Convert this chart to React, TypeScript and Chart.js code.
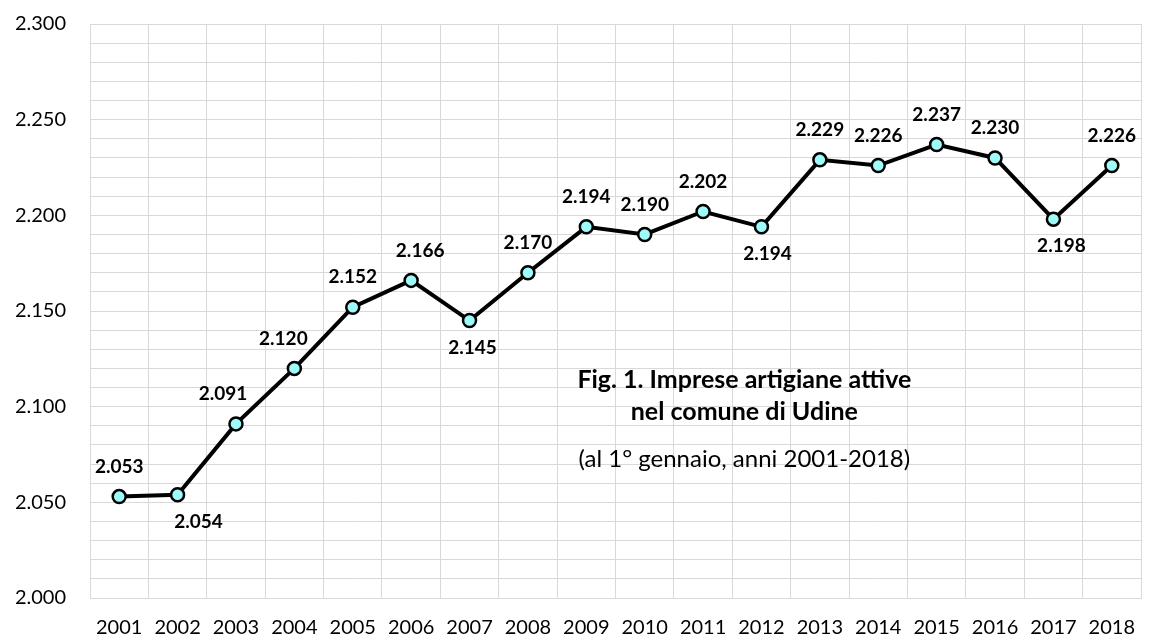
import React, { useEffect, useRef } from 'react';
import { Chart, registerables } from 'chart.js';

Chart.register(...registerables);

const YEARS = ['2001', '2002', '2003', '2004', '2005', '2006', '2007', '2008', '2009', '2010', '2011', '2012', '2013', '2014', '2015', '2016', '2017', '2018'];
const IMPRESE = [2053, 2054, 2091, 2120, 2152, 2166, 2145, 2170, 2194, 2190, 2202, 2194, 2229, 2226, 2237, 2230, 2198, 2226];
const LABEL_POSITION = ['above', 'below', 'above', 'above', 'above', 'above', 'below', 'above', 'above', 'above', 'above', 'below', 'above', 'above', 'above', 'above', 'below', 'above'];
const LABEL_SHIFT_X = [0, 21, -13, -11, 0, 9, 3, 0, 0, 0, 0, 6, 0, 0, 0, 0, 8, 0];
const Y_MIN = 2000;
const Y_MAX = 2300;
const Y_MINOR_STEP = 10;
const Y_MAJOR_STEP = 50;
const TITLE_LINES = ['Fig. 1. Imprese artigiane attive', 'nel comune di Udine'];
const SUBTITLE = '(al 1° gennaio, anni 2001-2018)';

const FONT = 'Lato, Carlito, "Open Sans", sans-serif';
const GRID = '#d9d9d9';

const fmt = (v: number) => {
  const t = Math.floor(v / 1000);
  const r = Math.round(v - t * 1000);
  return t + '.' + String(r).padStart(3, '0');
};

const labelPlugin = {
  id: 'pointLabels',
  afterDatasetsDraw(chart: any) {
    const ctx = chart.ctx;
    const meta = chart.getDatasetMeta(0);
    ctx.save();
    ctx.font = `bold 19px ${FONT}`;
    ctx.fillStyle = '#000';
    ctx.textAlign = 'center';
    ctx.textBaseline = 'middle';
    meta.data.forEach((pt: any, i: number) => {
      const dy = LABEL_POSITION[i] === 'below' ? 27 : -30;
      ctx.fillText(fmt(IMPRESE[i]), pt.x + LABEL_SHIFT_X[i], pt.y + dy);
    });
    ctx.restore();
  },
};

const titlePlugin = {
  id: 'innerTitle',
  afterDatasetsDraw(chart: any) {
    const { ctx, chartArea } = chart;
    const w = chartArea.right - chartArea.left;
    const h = chartArea.bottom - chartArea.top;
    const cx = chartArea.left + w * 0.6226;
    ctx.save();
    ctx.fillStyle = '#000';
    ctx.textAlign = 'center';
    ctx.textBaseline = 'middle';
    ctx.font = `bold 25px ${FONT}`;
    ctx.fillText(TITLE_LINES[0], cx, chartArea.top + h * 0.62);
    ctx.fillText(TITLE_LINES[1], cx, chartArea.top + h * 0.676);
    ctx.font = `24px ${FONT}`;
    ctx.fillText(SUBTITLE, cx, chartArea.top + h * 0.759);
    ctx.restore();
  },
};

export default function App() {
  const ref = useRef<HTMLCanvasElement | null>(null);
  useEffect(() => {
    if (!ref.current) return;
    const chart = new Chart(ref.current, {
      type: 'line',
      data: {
        labels: YEARS,
        datasets: [
          {
            data: IMPRESE,
            borderColor: '#000',
            borderWidth: 4,
            pointRadius: 6.5,
            pointBorderWidth: 2.5,
            pointBackgroundColor: '#9ffafa',
            pointBorderColor: '#000',
            tension: 0,
          },
        ],
      },
      options: {
        responsive: false,
        animation: false,
        devicePixelRatio: 1,
        layout: { padding: { left: 0, right: 0, top: 24, bottom: 0 } },
        plugins: { legend: { display: false }, tooltip: { enabled: false }, title: { display: false } },
        scales: {
          x: {
            type: 'category',
            offset: true,
            grid: { offset: true, color: GRID, lineWidth: 1, drawTicks: false },
            border: { color: GRID, width: 1 },
            ticks: { color: '#000', font: { family: FONT, size: 20 }, padding: 18, maxRotation: 0, autoSkip: false },
            afterFit: (s: any) => {
              s.height = 39;
              s.paddingLeft = 0;
              s.paddingRight = 0;
            },
          },
          y: {
            type: 'linear',
            min: Y_MIN,
            max: Y_MAX,
            grid: { color: GRID, lineWidth: 1, drawTicks: false },
            border: { color: GRID, width: 1 },
            ticks: {
              stepSize: Y_MINOR_STEP,
              maxTicksLimit: 100,
              autoSkip: false,
              color: '#000',
              padding: 24,
              font: { family: FONT, size: 20 },
              callback: (v: any) => (Number(v) % Y_MAJOR_STEP === 0 ? fmt(Number(v)) : ''),
            },
            afterFit: (s: any) => {
              s.width = 90;
              s.paddingTop = 0;
              s.paddingBottom = 0;
            },
          },
        },
      },
      plugins: [labelPlugin, titlePlugin],
    });
    return () => chart.destroy();
  }, []);
  return (
    <div style={{ position: 'fixed', left: 0, top: 0, width: 1150, height: 637, background: '#fff' }}>
      <canvas ref={ref} width={1150} height={637} style={{ width: 1150, height: 637, display: 'block' }} />
    </div>
  );
}
